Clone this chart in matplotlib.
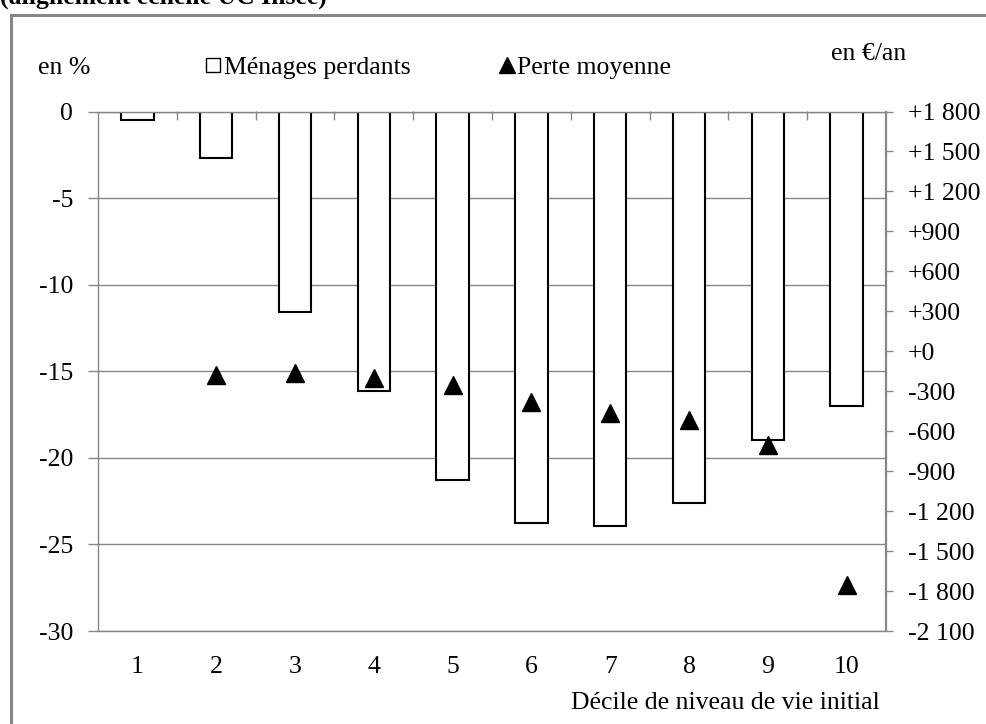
import numpy as np
import matplotlib
matplotlib.use("Agg")
import matplotlib.pyplot as plt
from matplotlib.lines import Line2D
from matplotlib.patches import Rectangle

# Data
deciles = list(range(1, 11))
menages_perdants = [-0.5, -2.7, -11.6, -16.15, -21.3, -23.76, -23.93, -22.6, -18.96, -16.98]  # en %
perte_moyenne = [np.nan, -177, -160, -202, -253, -378, -463, -515, -700, -1755]             # en €/an

pct_ticks = [0, -5, -10, -15, -20, -25, -30]
eur_ticks = list(range(1800, -2101, -300))

legend_labels = ["Ménages perdants", "Perte moyenne"]
title = "(alignement échelle UC Insee)"
xlabel = "Décile de niveau de vie initial"


def eur_label(v):
    sign = "+" if v >= 0 else "-"
    return sign + f"{abs(v):,}".replace(",", " ")


plt.rcParams['font.family'] = ['Liberation Serif', 'DejaVu Sans']
FS = 18.5
GRAY = '#868686'

W, H = 986, 724
fig = plt.figure(figsize=(W / 100, H / 100), dpi=100)

ax = fig.add_axes([98 / W, 1 - 631 / H, (886 - 98) / W, (631 - 111.5) / H])
ax.set_xlim(0.5, 10.5)
ax.set_ylim(-30, 0)
ax.set_axisbelow(True)

ax.bar(deciles, menages_perdants, width=0.41, color='white',
       edgecolor='black', linewidth=1.5, zorder=2)

ax.yaxis.grid(True, color=GRAY, linewidth=1.0)
ax.set_yticks(pct_ticks)
ax.set_yticklabels([str(v) for v in pct_ticks])
ax.tick_params(axis='y', direction='out', length=7.2, width=1, color=GRAY,
               pad=10.8, labelsize=FS)
ax.set_xticks(deciles)
ax.set_xticklabels([str(d) for d in deciles])
ax.tick_params(axis='x', length=0, pad=18, labelsize=FS)
for side in ('top', 'bottom', 'left'):
    ax.spines[side].set_color(GRAY)
    ax.spines[side].set_linewidth(1.0)
ax.spines['right'].set_visible(False)

# category separators on the zero line
sec = ax.secondary_xaxis('top')
sec.set_xticks(np.arange(1.5, 10.5, 1))
sec.tick_params(direction='in', length=6.5, width=1, color=GRAY, labeltop=False)
sec.spines['top'].set_visible(False)

ax2 = ax.twinx()
ax2.set_ylim(-2100, 1800)
ax2.set_yticks(eur_ticks)
ax2.set_yticklabels([eur_label(v) for v in eur_ticks])
ax2.tick_params(axis='y', direction='out', length=5, width=1, color=GRAY,
                pad=10.8, labelsize=FS)
for side in ('top', 'bottom', 'left'):
    ax2.spines[side].set_visible(False)
ax2.spines['right'].set_color(GRAY)
ax2.spines['right'].set_linewidth(1.6)

ax2.plot(deciles, perte_moyenne, linestyle='none', marker='^', markersize=13,
         color='black', zorder=3)

handles = [
    Line2D([], [], linestyle='none', marker='s', markersize=9.5,
           markerfacecolor='white', markeredgecolor='black', markeredgewidth=1),
    Line2D([], [], linestyle='none', marker='^', markersize=11, color='black'),
]
fig.legend(handles, legend_labels, loc='center left',
           bbox_to_anchor=(207 / W, 1 - 68 / H), bbox_transform=fig.transFigure,
           ncol=2, frameon=False, fontsize=FS, handlelength=0.5,
           handletextpad=0.15, columnspacing=3.5, borderpad=0, borderaxespad=0)

fig.text(64.5 / W, 1 - 68 / H, "en %", ha='center', va='center', fontsize=FS)
fig.text(869 / W, 1 - 54 / H, "en €/an", ha='center', va='center', fontsize=FS)
fig.text(880 / W, 1 - 703 / H, xlabel, ha='right', va='center', fontsize=FS)
fig.text(0, 1 - 4 / H, title, ha='left', va='baseline', fontsize=FS,
         fontweight='bold')

fig.add_artist(Rectangle((11 / W, -0.1), 1.2, 1 - 14.5 / H + 0.1,
                         transform=fig.transFigure, fill=False,
                         edgecolor=GRAY, linewidth=2.2, clip_on=False))

fig.savefig('out.png', dpi=100)
